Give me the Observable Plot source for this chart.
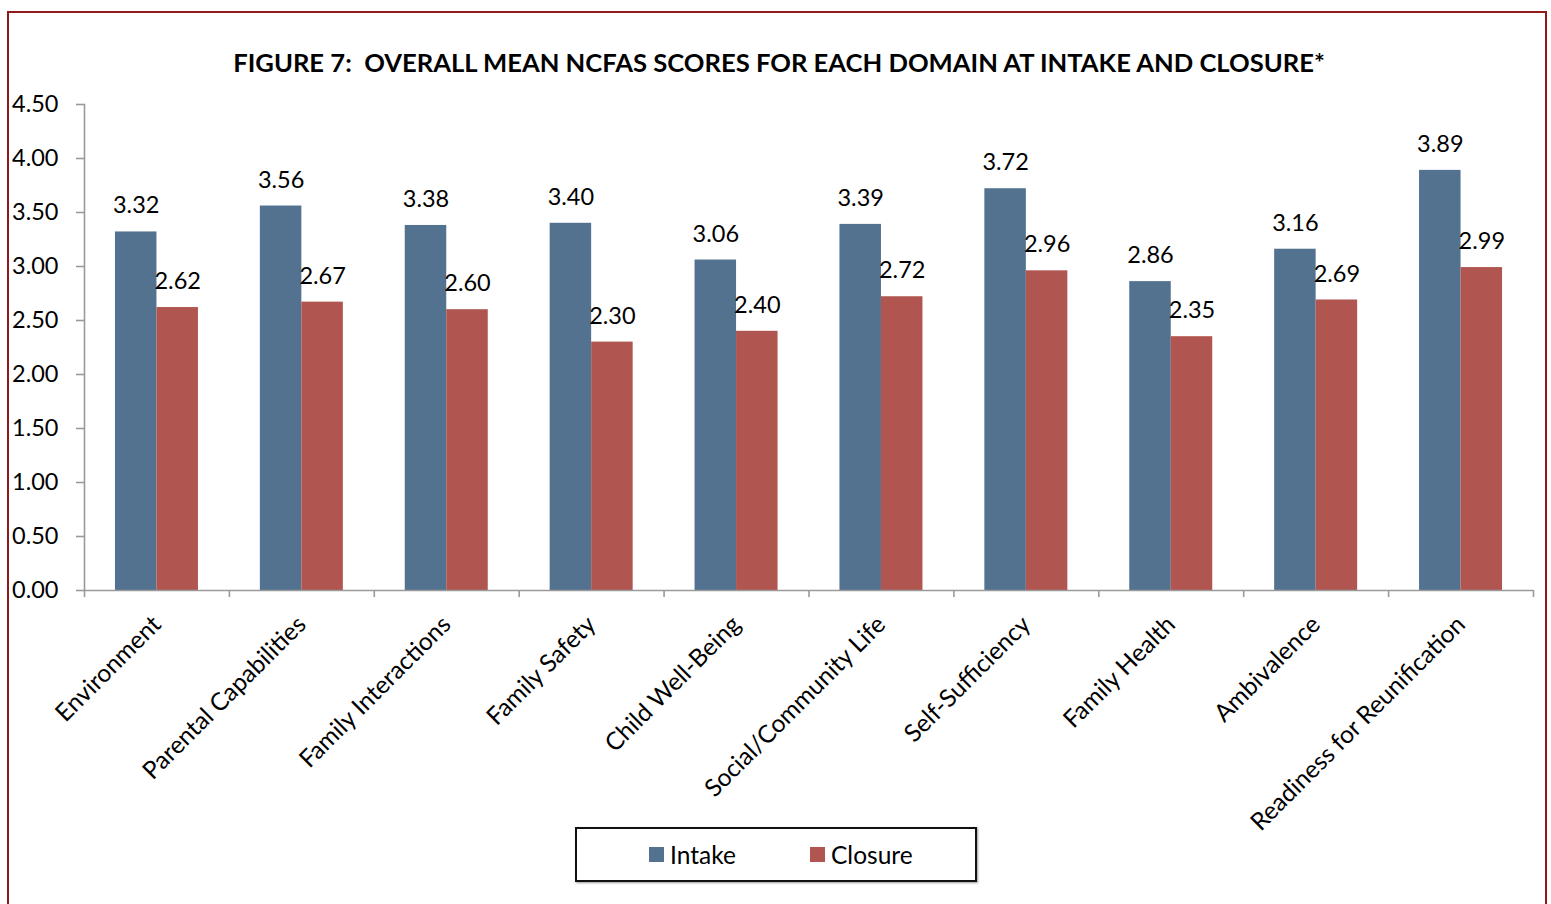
<!DOCTYPE html>
<html><head><meta charset="utf-8">
<script src="https://cdn.jsdelivr.net/npm/d3@7"></script>
<script src="https://cdn.jsdelivr.net/npm/@observablehq/plot@0.6"></script>
<style>
html,body{margin:0;padding:0;overflow:hidden;background:#fff;font-family:Lato,"Open Sans",sans-serif;}
#frame{position:absolute;left:7px;top:11px;width:1536px;height:1000px;border:2px solid #8E1A1A;}
#title{position:absolute;left:0;width:1558px;top:47px;text-align:center;font-weight:bold;font-size:25.6px;color:#000;white-space:pre;}
#chart{position:absolute;left:0;top:0;}
#legend{position:absolute;left:575px;top:827px;width:398px;height:51px;border:2px solid #111;box-shadow:1px 1px 2px #999;background:#fff;}
#legend .item{position:absolute;top:0;height:51px;display:flex;align-items:center;font-size:24.5px;color:#000;}
#legend .sw{width:15px;height:15px;margin-right:6px;}
</style>
</head><body>
<div id="frame"></div>
<div id="chart"></div>
<div id="title">FIGURE 7:  OVERALL MEAN NCFAS SCORES FOR EACH DOMAIN AT INTAKE AND CLOSURE*</div>
<div id="legend"></div>
<script>
const categories = ["Environment","Parental Capabilities","Family Interactions","Family Safety","Child Well-Being","Social/Community Life","Self-Sufficiency","Family Health","Ambivalence","Readiness for Reunification"];
const intake = [3.32,3.56,3.38,3.40,3.06,3.39,3.72,2.86,3.16,3.89];
const closure = [2.62,2.67,2.60,2.30,2.40,2.72,2.96,2.35,2.69,2.99];
const seriesNames = ["Intake","Closure"];
const seriesColors = ["#527290","#B0554F"];
const yTicks = [0,0.5,1,1.5,2,2.5,3,3.5,4,4.5];

const intakeData = categories.map((c,i)=>({domain:c, value:intake[i]}));
const closureData = categories.map((c,i)=>({domain:c, value:closure[i]}));

const W = 1551, H = 900, mL = 84, mR = 18, mT = 104, mB = 310;
const bw = (W - mL - mR) / categories.length;
const barW = 41.5;
const gap = (bw - 2*barW) / 2;
const axisGray = "#9a9a9a";
const numSize = 23.5, wordSize = 24.5;

const chart = Plot.plot({
  width: W, height: H,
  marginLeft: mL, marginRight: mR, marginTop: mT, marginBottom: mB,
  style: {background: "transparent", fontFamily: "Lato, 'Open Sans', sans-serif", color: "#000"},
  x: {type: "band", domain: categories, padding: 0, round: false},
  y: {domain: [0, 4.5]},
  marks: [
    Plot.barY(intakeData, {x: "domain", y: "value", fill: seriesColors[0], insetLeft: gap, insetRight: bw - gap - barW}),
    Plot.barY(closureData, {x: "domain", y: "value", fill: seriesColors[1], insetLeft: gap + barW, insetRight: gap}),
    Plot.frame({anchor: "left", stroke: axisGray, strokeWidth: 1.6}),
    Plot.ruleY([0], {stroke: axisGray, strokeWidth: 1.6}),
    Plot.axisY({ticks: yTicks, tickFormat: d => d.toFixed(2), tickSize: 8, tickPadding: 18, stroke: axisGray, strokeWidth: 1.6, fontSize: numSize, fill: "#000", label: null}),
    Plot.axisX({tickSize: 7, tickFormat: () => "", dx: -bw/2, stroke: axisGray, strokeWidth: 1.6, label: null}),
    Plot.axisX([categories[categories.length-1]], {tickSize: 7, tickFormat: () => "", dx: bw/2, stroke: axisGray, strokeWidth: 1.6, label: null}),
    Plot.axisX({tickSize: 0, tickRotate: -45, tickPadding: 30, dx: 0, fontSize: wordSize, fill: "#000", label: null}),
    Plot.text(intakeData, {x: "domain", y: "value", text: d => d.value.toFixed(2), dx: -barW/2, dy: -26, fontSize: numSize, fill: "#000"}),
    Plot.text(closureData, {x: "domain", y: "value", text: d => d.value.toFixed(2), dx: barW/2, dy: -26, fontSize: numSize, fill: "#000"})
  ]
});
document.getElementById("chart").appendChild(chart);

const legend = document.getElementById("legend");
const legendLeft = [72, 233];
seriesNames.forEach((s,i)=>{
  const it = document.createElement("div");
  it.className = "item";
  it.style.left = legendLeft[i] + "px";
  it.innerHTML = `<span class="sw" style="background:${seriesColors[i]}"></span><span>${s}</span>`;
  legend.appendChild(it);
});
</script>
</body></html>
